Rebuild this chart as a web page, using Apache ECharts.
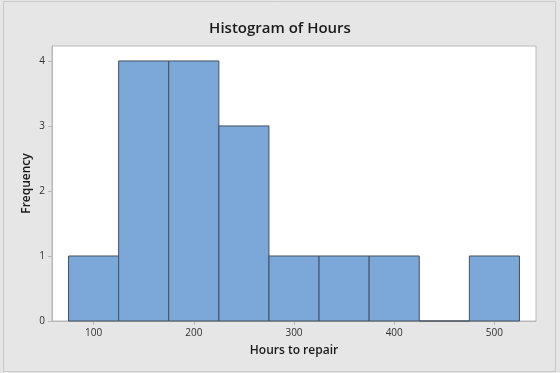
<!DOCTYPE html>
<html><head><meta charset="utf-8">
<script src="https://cdn.jsdelivr.net/npm/echarts@6/dist/echarts.min.js"></script>
<style>html,body{margin:0;padding:0;}#c{width:560px;height:373px;}</style>
</head><body><div id="c"></div>
<script>
const binStarts = [75, 125, 175, 225, 275, 325, 375, 425, 475];
const binWidth = 50;
const counts = [1, 4, 4, 3, 1, 1, 1, 0, 1];
const xTicks = [100, 200, 300, 400, 500];
const yTicks = [0, 1, 2, 3, 4];

const data = binStarts.map((s, i) => [s, s + binWidth, counts[i]]);
const chart = echarts.init(document.getElementById('c'));
const font = '"Open Sans", "Noto Sans", sans-serif';
chart.setOption({
  backgroundColor: '#e6e6e6',
  animation: false,
  title: {
    text: 'Histogram of Hours', left: 'center', top: 16,
    textStyle: {fontFamily: font, fontSize: 15, fontWeight: 600, color: '#1a1a1a'}
  },
  graphic: [{
    type: 'rect', shape: {x: 3.5, y: 1.5, width: 552, height: 370},
    style: {fill: null, stroke: '#c9c9c9', lineWidth: 1}, silent: true
  }],
  grid: {left: 52, right: 24, top: 46, bottom: 52, show: true, backgroundColor: '#fff', borderColor: '#b8b8b8', borderWidth: 1},
  xAxis: {
    type: 'value', min: 58.5, max: 541.5,
    name: 'Hours to repair', nameLocation: 'middle', nameGap: 24, nameMoveOverlap: false,
    nameTextStyle: {fontFamily: font, fontSize: 12, fontWeight: 600, color: '#1a1a1a'},
    splitLine: {show: false},
    axisLine: {show: true, lineStyle: {color: '#b8b8b8'}},
    axisTick: {show: true, customValues: xTicks, length: 4, lineStyle: {color: '#b8b8b8'}},
    axisLabel: {customValues: xTicks, fontFamily: font, fontSize: 10, color: '#303030', margin: 7}
  },
  yAxis: {
    type: 'value', min: 0, max: 4.23,
    name: 'Frequency', nameLocation: 'middle', nameGap: 19, nameMoveOverlap: false,
    nameTextStyle: {fontFamily: font, fontSize: 12, fontWeight: 600, color: '#1a1a1a'},
    splitLine: {show: false},
    axisLine: {show: true, lineStyle: {color: '#b8b8b8'}},
    axisTick: {show: true, customValues: yTicks, length: 4, lineStyle: {color: '#b8b8b8'}},
    axisLabel: {customValues: yTicks, fontFamily: font, fontSize: 10, color: '#303030', margin: 7}
  },
  series: [{
    type: 'custom',
    data: data,
    encode: {x: [0, 1], y: 2},
    renderItem: function (params, api) {
      const p0 = api.coord([api.value(0), 0]);
      const p1 = api.coord([api.value(1), api.value(2)]);
      return {
        type: 'rect',
        shape: {x: p0[0], y: p1[1], width: p1[0] - p0[0], height: p0[1] - p1[1]},
        style: {fill: '#7ba7d9', stroke: '#45505c', lineWidth: 1}
      };
    }
  }]
});
</script></body></html>
